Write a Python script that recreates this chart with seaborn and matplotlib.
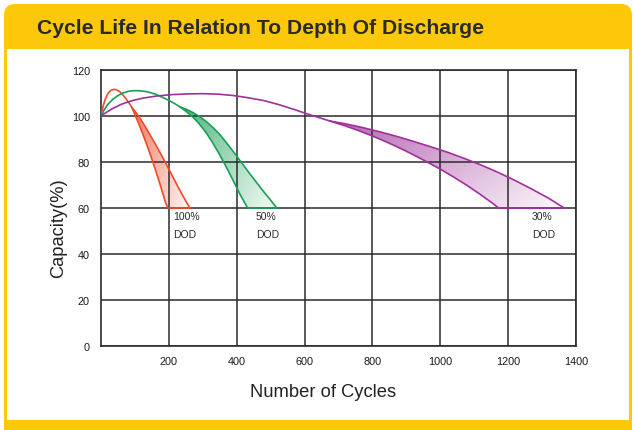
import numpy as np
import seaborn as sns
import matplotlib.pyplot as plt
from matplotlib.patches import FancyBboxPatch, Rectangle, Polygon
from matplotlib.colors import to_rgb

# curve data: shared rising part, then inner/outer branch down to 60 %
red_rise_x = [0, 4, 8, 13, 18, 24, 30, 38, 46, 54, 62, 70, 78, 85, 91]
red_rise_y = [100, 102.8, 105.2, 107.4, 109.1, 110.4, 111.2, 111.6, 111.4, 110.7, 109.6, 108.2,
              106.6, 105.1, 103.7]
red_inner_x = [91, 100, 110, 120, 130, 140, 150, 160, 170, 180, 190, 197]
red_inner_y = [103.7, 100.6, 97.1, 93.4, 89.5, 85.5, 81.2, 76.8, 72.2, 67.4, 62.5, 60]
red_outer_x = [91, 100, 110, 120, 135, 150, 165, 180, 195, 212, 228, 245, 262]
red_outer_y = [103.7, 102.1, 100.1, 97.9, 94.2, 90.4, 86.5, 82.5, 78.3, 73.5, 68.9, 64.3, 60]

green_rise_x = [0, 10, 20, 35, 50, 65, 80, 95, 110, 125, 140, 160, 180, 200, 216, 232]
green_rise_y = [100, 102.8, 105, 107.3, 108.9, 110, 110.7, 111, 111, 110.8, 110.4, 109.5, 108.2,
                106.8, 105.5, 104]
green_inner_x = [232, 250, 271, 290, 310, 329, 350, 370, 390, 410, 432]
green_inner_y = [104, 102.1, 99.5, 96.5, 92.7, 88.4, 83.1, 77.6, 71.8, 65.9, 60]
green_outer_x = [232, 250, 271, 291, 310, 330, 350, 370, 390, 415, 438, 460, 480, 500, 518]
green_outer_y = [104, 103, 101.5, 99.7, 97.6, 95, 92, 88.3, 84.5, 79.6, 75, 70.8, 67, 63.4, 60]

purple_rise_x = [0, 15, 35, 60, 90, 125, 165, 210, 255, 300, 345, 390, 435, 480, 525, 570, 610,
                 645, 675]
purple_rise_y = [100, 101.5, 103.3, 105.1, 106.6, 107.8, 108.7, 109.3, 109.6, 109.7, 109.5, 108.9,
                 107.9, 106.7, 104.9, 102.8, 100.8, 99.2, 97.8]
purple_inner_x = [675, 720, 760, 800, 840, 880, 920, 960, 1000, 1040, 1080, 1120, 1150, 1172]
purple_inner_y = [97.8, 95.7, 93.6, 91.3, 88.8, 86.1, 83.2, 80.1, 76.9, 73.4, 69.7, 65.7, 62.5, 60]
purple_outer_x = [675, 720, 770, 820, 870, 920, 970, 1020, 1070, 1120, 1170, 1220, 1270, 1320,
                  1365]
purple_outer_y = [97.8, 96.6, 95, 93.2, 91.2, 89, 86.7, 84.3, 81.6, 78.7, 75.5, 72, 68.2, 64.2, 60]

dod_labels = ['100%\nDOD', '50%\nDOD', '30%\nDOD']
dod_label_x = [212, 457, 1270]
x_ticks = [200, 400, 600, 800, 1000, 1200, 1400]
y_ticks = [0, 20, 40, 60, 80, 100, 120]

sns.set_style('white')
plt.rcParams['font.family'] = ['Liberation Sans', 'DejaVu Sans']

fig = plt.figure(figsize=(6.34, 4.31), dpi=100)

# yellow frame behind everything, drawn in pixel units
bg = fig.add_axes([0, 0, 1, 1], zorder=-1)
bg.set_xlim(0, 634)
bg.set_ylim(431, 0)
bg.axis('off')
yellow = '#FDC80A'
bg.add_patch(FancyBboxPatch((4, 5), 628, 440, boxstyle='round,pad=0,rounding_size=11',
                            facecolor=yellow, edgecolor='none'))
bg.add_patch(Rectangle((7, 50), 622, 371, facecolor='white', edgecolor='none'))
fig.text(0.058, 0.934, 'Cycle Life In Relation To Depth Of Discharge', fontsize=15.2,
         fontweight='bold', color='#2a2a2a', va='center', ha='left')

ax = fig.add_axes([0.1593, 0.1949, 0.7492, 0.6404])
ax.set_facecolor('none')


def draw_band(rx, ry, ix, iy, ox, oy, line_col, fill_col):
    poly_x = ix + ox[::-1]
    poly_y = iy + oy[::-1]
    poly = Polygon(np.column_stack([poly_x, poly_y]), closed=True, facecolor='none',
                   edgecolor='none')
    ax.add_patch(poly)
    x0, x1 = min(poly_x), max(poly_x)
    y0, y1 = min(poly_y), max(poly_y)
    gx, gy = np.meshgrid(np.linspace(0, 1, 200), np.linspace(0, 1, 200))
    t = np.clip(0.65 * gx + 0.35 * gy, 0, 1)
    img = np.zeros((200, 200, 4))
    img[..., :3] = to_rgb(fill_col)
    img[..., 3] = 0.85 * (1 - t) + 0.04 * t
    im = ax.imshow(img, extent=[x0, x1, y0, y1], origin='upper', aspect='auto', zorder=1)
    im.set_clip_path(poly)
    for xs, ys in [(rx, ry), (ix, iy), (ox, oy)]:
        sns.lineplot(x=xs, y=ys, sort=False, color=line_col, linewidth=1.2, ax=ax, zorder=3)
    ax.plot([ix[-1], ox[-1]], [60, 60], color=line_col, linewidth=1.2, zorder=3)


draw_band(red_rise_x, red_rise_y, red_inner_x, red_inner_y, red_outer_x, red_outer_y,
          '#EE4A2C', '#F0603F')
draw_band(green_rise_x, green_rise_y, green_inner_x, green_inner_y, green_outer_x,
          green_outer_y, '#1A9E58', '#2DA862')
draw_band(purple_rise_x, purple_rise_y, purple_inner_x, purple_inner_y, purple_outer_x,
          purple_outer_y, '#A0309A', '#A84AA3')

for lab, lx in zip(dod_labels, dod_label_x):
    ax.text(lx, 58.5, lab, fontsize=7.5, color='#2a2a2a', ha='left', va='top',
            linespacing=1.9)

ax.set_xlim(0, 1400)
ax.set_ylim(0, 120)
ax.set_xticks(x_ticks)
ax.set_yticks(y_ticks)
ax.tick_params(length=0, labelsize=7.8, colors='#1a1a1a')
ax.tick_params(axis='x', pad=7)
ax.tick_params(axis='y', pad=8)
ax.grid(True, color='#2b2b2b', linewidth=1.1)
ax.set_axisbelow('line')
for s in ax.spines.values():
    s.set_visible(True)
    s.set_color('#2b2b2b')
    s.set_linewidth(1.2)

ax.set_xlabel('Number of Cycles', fontsize=13.2, color='#222222')
ax.set_ylabel('Capacity(%)', fontsize=13.2, color='#222222')
ax.xaxis.set_label_coords(0.468, -0.135)
ax.yaxis.set_label_coords(-0.072, 0.43)

fig.savefig('out.png', dpi=100)
